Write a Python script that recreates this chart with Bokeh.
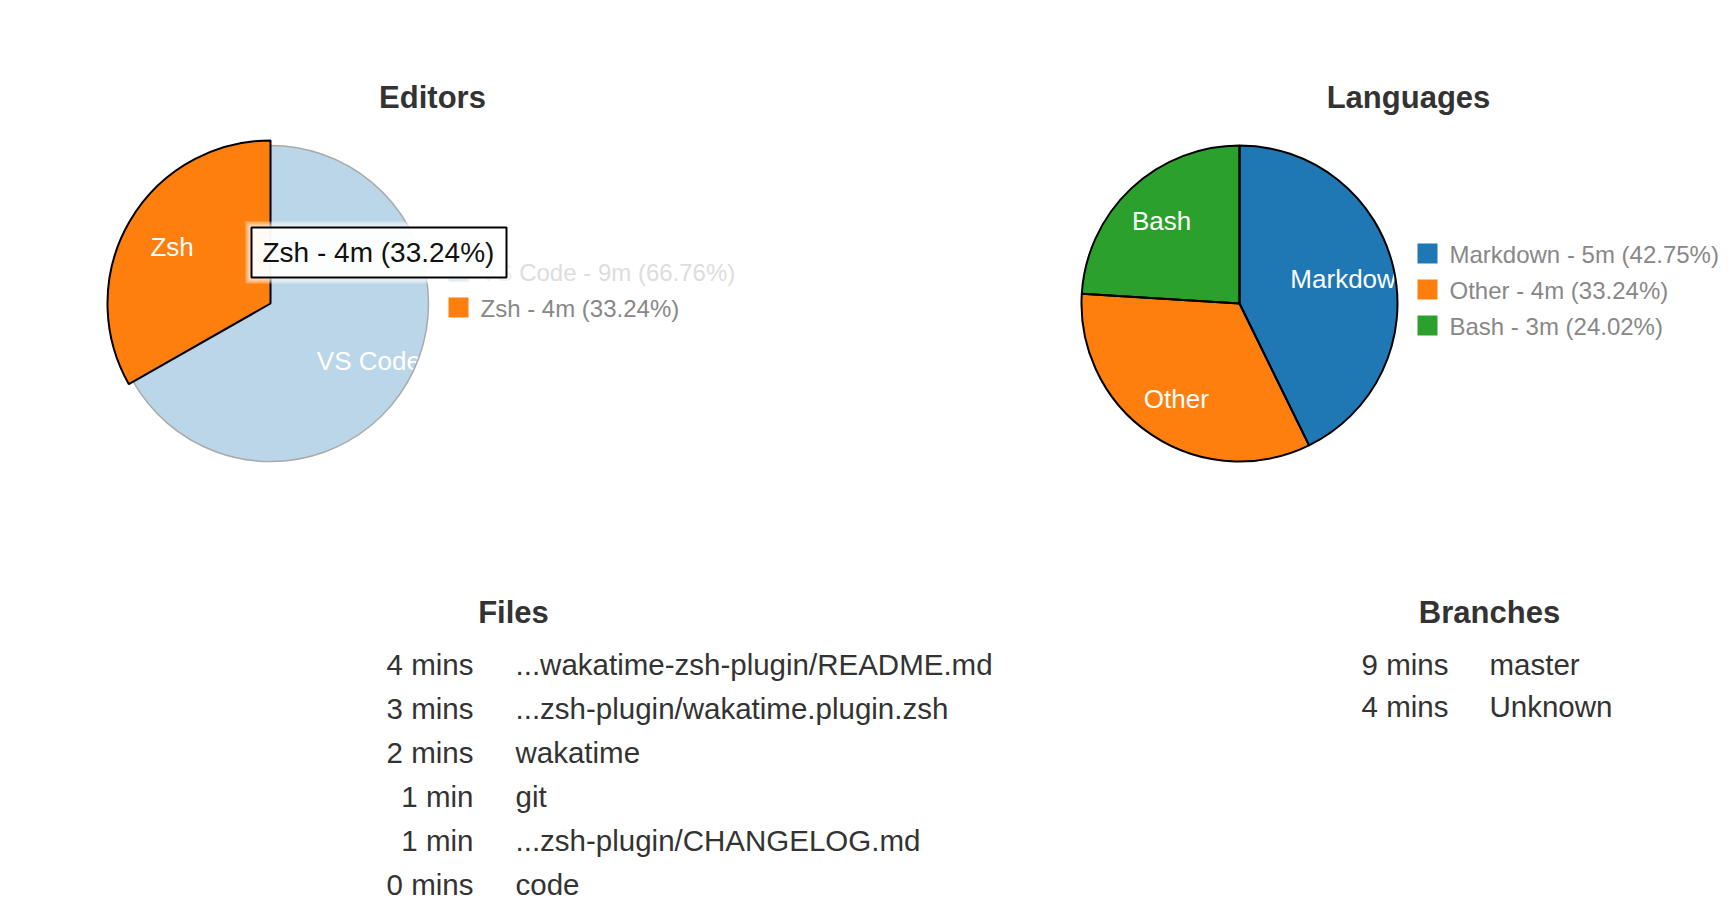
import math
from bokeh.plotting import figure
from bokeh.models import ColumnDataSource, Range1d
from bokeh.core.properties import value
from bokeh.embed import file_html
from bokeh.resources import INLINE

# ---------------- data ----------------
editor_names = ["VS Code", "Zsh"]
editor_pct = [66.76, 33.24]
editor_time = ["9m", "4m"]

language_names = ["Markdown", "Other", "Bash"]
language_pct = [42.75, 33.24, 24.02]
language_time = ["5m", "4m", "3m"]

file_mins = ["4 mins", "3 mins", "2 mins", "1 min", "1 min", "0 mins"]
file_names = ["...wakatime-zsh-plugin/README.md", "...zsh-plugin/wakatime.plugin.zsh",
              "wakatime", "git", "...zsh-plugin/CHANGELOG.md", "code"]

branch_mins = ["9 mins", "4 mins"]
branch_names = ["master", "Unknown"]

hover_item = "Zsh"   # highlighted editor slice (tooltip shown)

# ---------------- styling ----------------
W, H = 1736, 904
FONT = value("Liberation Sans")
BLUE, ORANGE, GREEN = "#1f77b4", "#ff7f0e", "#2ca02c"
editor_colors = [BLUE, ORANGE]
language_colors = [BLUE, ORANGE, GREEN]


def Y(y):
    return H - y


p = figure(width=W, height=H, x_range=Range1d(0, W), y_range=Range1d(0, H),
           x_axis_type=None, y_axis_type=None, toolbar_location=None,
           output_backend="svg", min_border=0)
p.grid.visible = False
p.outline_line_color = None
p.background_fill_color = "white"
p.border_fill_color = "white"


def txt(xs, ys, texts, size, color, align="left", bold=False, alpha=1.0):
    src = ColumnDataSource(dict(x=list(xs), y=[Y(v) for v in ys], t=list(texts)))
    p.text(x="x", y="y", text="t", source=src, text_font=FONT,
           text_font_size=value(f"{size}px"), text_color=color, text_alpha=alpha,
           text_align=align, text_baseline="alphabetic",
           text_font_style="bold" if bold else "normal")


def base(center, size):
    # baseline for text whose cap-height centre is at `center`
    return center + 0.358 * size - 0.33 * size


def pie(cx, cy, r, names, pct, times, colors, title, title_x, leg_x, leg_cy,
        hover=None):
    total = sum(pct)
    cum = [0.0]
    for v in pct:
        cum.append(cum[-1] + v / total)
    starts, ends, lx, ly, radii, fills, lines, lw = [], [], [], [], [], [], [], []
    for i, n in enumerate(names):
        a0, a1 = cum[i] * 2 * math.pi, cum[i + 1] * 2 * math.pi
        starts.append(math.pi / 2 - a1)
        ends.append(math.pi / 2 - a0)
        mid = (a0 + a1) / 2
        lx.append(cx + 0.72 * r * math.sin(mid))
        ly.append(cy - 0.72 * r * math.cos(mid))
        faded = hover is not None and n != hover
        big = hover is not None and n == hover
        radii.append(r + 5 if big else r)
        fills.append(colors[i])
        lines.append("#aaaaaa" if faded else "black")
        lw.append(1.5 if faded else 2)
    alphas = [0.3 if (hover is not None and n != hover) else 1.0 for n in names]
    src = ColumnDataSource(dict(x=[cx] * len(names), y=[Y(cy)] * len(names), r=radii,
                                s=starts, e=ends, f=fills, fa=alphas, lc=lines, lw=lw))
    # fills
    p.wedge(x="x", y="y", radius="r", start_angle="s", end_angle="e", source=src,
            fill_color="f", fill_alpha="fa", line_color=None)
    # labels
    txt(lx, [base(v, 26) for v in ly], names, 26, "white", align="center")
    # outlines
    order = sorted(range(len(names)), key=lambda i: names[i] == hover)
    for i in order:
        p.wedge(x=cx, y=Y(cy), radius=radii[i], start_angle=starts[i], end_angle=ends[i],
                fill_color=None, line_color=lines[i], line_width=lw[i])
    # title
    txt([title_x], [base(96.5, 31)], [title], 31, "#333333", align="center", bold=True)
    # legend
    n = len(names)
    rows = [leg_cy + (k - (n - 1) / 2) * 36 for k in range(n)]
    lsrc = ColumnDataSource(dict(x=[leg_x] * n, y=[Y(v) for v in rows], f=colors,
                                 fa=alphas))
    p.rect(x="x", y="y", width=20, height=20, source=lsrc, fill_color="f",
           fill_alpha="fa", line_color=None)
    labels = [f"{names[k]} - {times[k]} ({pct[k]:.2f}%)" for k in range(n)]
    for k in range(n):
        col = "#dddddd" if (hover is not None and names[k] != hover) else "#888888"
        txt([leg_x + 22], [base(rows[k], 24)], [labels[k]], 24, col)
    return labels


editor_labels = pie(270, 303, 158, editor_names, editor_pct, editor_time, editor_colors,
                    "Editors", 432, 458, 289, hover=hover_item)
pie(1239, 303, 158, language_names, language_pct, language_time, language_colors,
    "Languages", 1408, 1427, 289)

# tooltip for hovered slice
hi = editor_names.index(hover_item)
for k in (6, 4, 2):
    p.rect(x=378.5, y=Y(252), width=255 + 2 * k, height=50 + 2 * k,
           fill_color="white", fill_alpha=0.35, line_color=None)
p.rect(x=378.5, y=Y(252), width=255, height=50, fill_color="white", fill_alpha=0.85,
       line_color="black", line_width=2)
txt([262], [base(251, 28)], [editor_labels[hi]], 28, "#111111")

# files table
FS = 29.5
frows = [663 + 44 * k for k in range(len(file_names))]
txt([513], [base(611, 31)], ["Files"], 31, "#333333", align="center", bold=True)
txt([473] * len(file_mins), [base(v, FS) for v in frows], file_mins, FS, "#333333",
    align="right")
txt([515] * len(file_names), [base(v, FS) for v in frows], file_names, FS, "#333333")

# branches table
brows = [663 + 42 * k for k in range(len(branch_names))]
txt([1489], [base(611, 31)], ["Branches"], 31, "#333333", align="center", bold=True)
txt([1448] * len(branch_mins), [base(v, FS) for v in brows], branch_mins, FS, "#333333",
    align="right")
txt([1489] * len(branch_names), [base(v, FS) for v in brows], branch_names, FS, "#333333")

open("out.html", "w").write(file_html(p, INLINE))
